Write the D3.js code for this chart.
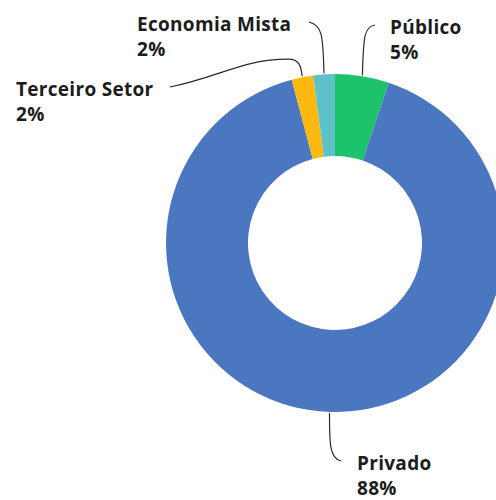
<!DOCTYPE html>
<html>
<head>
<meta charset="utf-8">
<script src="https://cdn.jsdelivr.net/npm/d3@7"></script>
<style>
  html, body { margin: 0; padding: 0; background: #ffffff; }
  svg { display: block; }
  text { font-family: "Open Sans", "DejaVu Sans", sans-serif; font-weight: 700; fill: #1c1c1c; }
</style>
</head>
<body>
<script>
// Share of organisations by sector (%)
const categories = ["Público", "Privado", "Terceiro Setor", "Economia Mista"];
const values = [5, 88, 2, 2];
const valueLabels = ["5%", "88%", "2%", "2%"];
const colors = ["#1cc36c", "#4a77bf", "#fdb812", "#5ec3c8"];

const width = 496, height = 500;
const cx = 335, cy = 243;
const outerR = 169, innerR = 87;

// Label placement: first-line baseline, and where each leader line ends
const labelLayout = {
  "Público":        { x: 390, y: 34,  end: [375, 25], kind: "upRight" },
  "Privado":        { x: 357, y: 470, end: [341, 461], kind: "downRight" },
  "Terceiro Setor": { x: 16,  y: 96,  end: [170, 87], kind: "upLeftLong" },
  "Economia Mista": { x: 137, y: 31,  end: [309, 22], kind: "upLeft" }
};

const svg = d3.select("body").append("svg")
  .attr("width", width).attr("height", height);

const pie = d3.pie().sort(null).value(d => d.value);
const arc = d3.arc().innerRadius(innerR).outerRadius(outerR);

const data = categories.map((c, i) => ({ name: c, value: values[i], label: valueLabels[i], color: colors[i] }));
const arcs = pie(data);

const g = svg.append("g").attr("transform", `translate(${cx},${cy})`);
g.selectAll("path.slice")
  .data(arcs)
  .join("path")
  .attr("class", "slice")
  .attr("d", arc)
  .attr("fill", d => d.data.color);

// Leader lines: start on the outer rim at the slice's middle angle
function leaderPath(d) {
  const lay = labelLayout[d.data.name];
  const mid = (d.startAngle + d.endAngle) / 2;
  const ax = cx + Math.sin(mid) * (outerR + 1);
  const ay = cy - Math.cos(mid) * (outerR + 1);
  const [ex, ey] = lay.end;
  const p = d3.path();
  p.moveTo(ax, ay);
  if (lay.kind === "upRight") {
    p.bezierCurveTo(ax + 1, ay - 40, ax + 2, ey + 2, ex, ey);
  } else if (lay.kind === "upLeft") {
    p.bezierCurveTo(ax - 1, ay - 40, ax - 2, ey + 4, ex, ey);
  } else if (lay.kind === "upLeftLong") {
    p.bezierCurveTo(ax - 1, ay - 10, ax - 3, ay - 17, ax - 14, ay - 17);
    p.bezierCurveTo(ax - 60, ay - 17, ex + 50, ey - 10, ex, ey);
  } else {
    p.bezierCurveTo(ax, ay + 30, ax, ey - 2, ex, ey);
  }
  return p.toString();
}

svg.append("g").selectAll("path.leader")
  .data(arcs)
  .join("path")
  .attr("class", "leader")
  .attr("d", leaderPath)
  .attr("fill", "none")
  .attr("stroke", "#2a2a2a")
  .attr("stroke-width", 1.2);

const labels = svg.append("g").selectAll("text.lbl")
  .data(arcs)
  .join("text")
  .attr("class", "lbl")
  .attr("x", d => labelLayout[d.data.name].x)
  .attr("y", d => labelLayout[d.data.name].y)
  .attr("font-size", 19)
  .attr("letter-spacing", 0.3);

labels.append("tspan").text(d => d.data.name);
labels.append("tspan")
  .attr("x", d => labelLayout[d.data.name].x)
  .attr("dy", 25)
  .text(d => d.data.label);
</script>
</body>
</html>
